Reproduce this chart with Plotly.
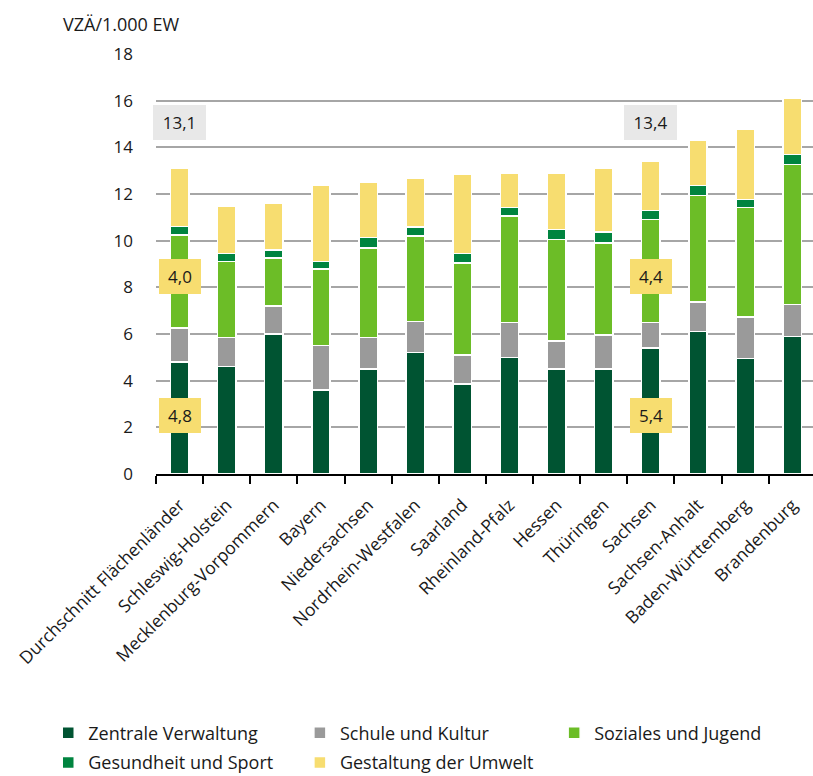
import plotly.graph_objects as go

categories = ["Durchschnitt Flächenländer", "Schleswig-Holstein", "Mecklenburg-Vorpommern",
              "Bayern", "Niedersachsen", "Nordrhein-Westfalen", "Saarland", "Rheinland-Pfalz",
              "Hessen", "Thüringen", "Sachsen", "Sachsen-Anhalt", "Baden-Württemberg", "Brandenburg"]

zentrale_verwaltung = [4.8, 4.6, 6.0, 3.6, 4.5, 5.2, 3.85, 5.0, 4.5, 4.5, 5.4, 6.1, 4.95, 5.9]
schule_kultur = [1.45, 1.25, 1.2, 1.9, 1.35, 1.33, 1.26, 1.5, 1.2, 1.45, 1.1, 1.27, 1.78, 1.37]
soziales_jugend = [4.0, 3.26, 2.05, 3.28, 3.84, 3.68, 3.94, 4.56, 4.34, 3.95, 4.4, 4.57, 4.7, 6.0]
gesundheit_sport = [0.35, 0.33, 0.35, 0.33, 0.44, 0.38, 0.4, 0.36, 0.43, 0.48, 0.4, 0.43, 0.33, 0.42]
gestaltung_umwelt = [2.5, 2.03, 2.0, 3.28, 2.38, 2.07, 3.41, 1.46, 2.44, 2.73, 2.1, 1.95, 3.0, 2.43]

series_names = ["Zentrale Verwaltung", "Schule und Kultur", "Soziales und Jugend",
                "Gesundheit und Sport", "Gestaltung der Umwelt"]
series_values = [zentrale_verwaltung, schule_kultur, soziales_jugend, gesundheit_sport, gestaltung_umwelt]
series_colors = ["#005432", "#9a9a9a", "#6cbd27", "#00843f", "#f7dd70"]

y_ticks = [0, 2, 4, 6, 8, 10, 12, 14, 16, 18]

highlight = ["Durchschnitt Flächenländer", "Sachsen"]

FONT = "Open Sans"
TXT = "#1a1a1a"

# legend slot positions (paper coordinates): 3 columns x 2 rows
legend_slots = [(-0.164, -0.6167), (0.219, -0.6167), (0.606, -0.6167),
                (-0.164, -0.6875), (0.219, -0.6875)]

fig = go.Figure()
legend_layout = {}
for k, (name, vals, col) in enumerate(zip(series_names, series_values, series_colors)):
    lid = "legend" if k == 0 else f"legend{k + 1}"
    fig.add_trace(go.Bar(
        x=categories, y=vals, name=name, legend=lid,
        marker=dict(color=col, line=dict(color="white", width=1.5)),
    ))
    lx, ly = legend_slots[k]
    legend_layout[lid] = dict(orientation="h", xref="paper", yref="paper", x=lx, y=ly,
                              xanchor="left", yanchor="middle",
                              font=dict(family=FONT, size=18, color=TXT),
                              bgcolor="rgba(0,0,0,0)")

def fmt(v):
    return f"{v:.1f}".replace(".", ",")

for cat in highlight:
    i = categories.index(cat)
    total = sum(s[i] for s in series_values)
    boxes = [
        (fmt(total), 15.05, "#e8e8e8"),
        (fmt(soziales_jugend[i]), 8.45, "#f7dd70"),
        (fmt(zentrale_verwaltung[i]), 2.5, "#f7dd70"),
    ]
    for txt, yv, bg in boxes:
        fig.add_annotation(
            x=cat, y=yv, xref="x", yref="y", text=txt, showarrow=False,
            bgcolor=bg, borderwidth=0, borderpad=0,
            width=53 if len(txt) > 3 else 42, height=35,
            font=dict(family=FONT, size=17, color=TXT),
        )

fig.add_annotation(
    x=-0.144, y=1.072, xref="paper", yref="paper", text="VZÄ/1.000 EW",
    showarrow=False, xanchor="left", yanchor="middle",
    font=dict(family=FONT, size=18, color=TXT),
)

fig.update_layout(
    width=813, height=776, autosize=False,
    margin=dict(l=156, r=0, t=54, b=302, autoexpand=False),
    barmode="stack", bargap=0.61,
    plot_bgcolor="white", paper_bgcolor="white",
    font=dict(family=FONT, size=17, color=TXT),
    xaxis=dict(
        type="category", range=[-0.5, 13.44], tickangle=-45, automargin=False,
        showline=True, linecolor="black", linewidth=2,
        ticks="outside", tickson="boundaries", ticklen=8, tickwidth=2, tickcolor="black",
        ticklabelstandoff=12,
        showgrid=False, tickfont=dict(family=FONT, size=17.5, color=TXT),
    ),
    yaxis=dict(
        range=[0, 18], tickvals=y_ticks, showgrid=True, gridcolor="#a6a6a6", gridwidth=1.5,
        zeroline=False, showline=False, ticks="", ticklabelstandoff=22, automargin=False,
        tickfont=dict(family=FONT, size=17, color=TXT),
    ),
    showlegend=True,
    **legend_layout,
)

fig.write_html("out.html", post_script="document.body.style.margin='0';",
               config={"displayModeBar": False})
